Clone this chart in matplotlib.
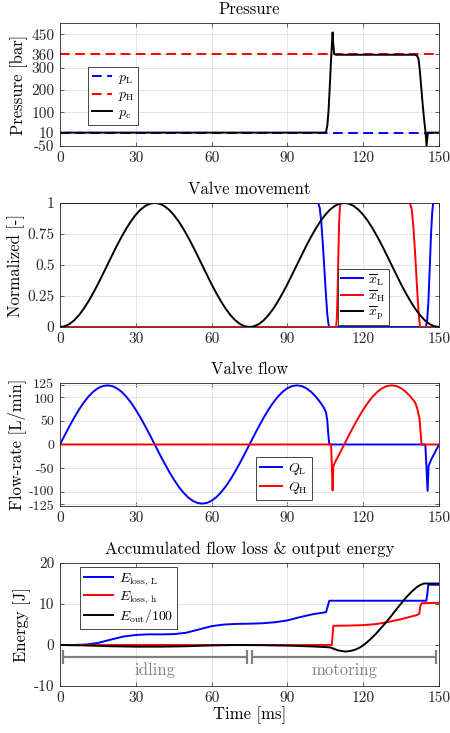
import numpy as np
import matplotlib
matplotlib.use("Agg")
import matplotlib.pyplot as plt
import matplotlib.transforms as mtransforms

plt.rcParams["font.family"] = ["cmr10", "DejaVu Serif"]
plt.rcParams["mathtext.fontset"] = "cm"
plt.rcParams["axes.unicode_minus"] = False
plt.rcParams["axes.formatter.use_mathtext"] = True

# ===================== data =====================
# pressure [bar]
t_pl = [0, 150]
p_low = [10, 10]
t_ph = [0, 150]
p_high = [360, 360]
t_pc = [0, 104.8, 105.3, 105.8, 106.3, 106.8, 107.3, 107.9, 108.2, 108.5, 109,
        140.5, 141.3, 141.9, 142.4, 143, 143.6, 144.2, 144.7, 145.1, 145.6, 150]
p_c = [10, 10, 14, 40, 110, 220, 340, 458, 400, 365, 358,
       358, 354, 340, 290, 210, 130, 60, 10, -50, 10, 10]

# valve movement [-]
t_xl = [0, 102.2, 102.8, 103.4, 104, 104.6, 105.2, 105.8, 106.3, 106.6,
        144.8, 145.3, 145.8, 146.3, 146.8, 147.3, 147.7, 150]
x_low = [1, 1, 0.96, 0.85, 0.68, 0.48, 0.28, 0.1, 0.02, 0,
         0, 0.05, 0.2, 0.45, 0.72, 0.92, 1, 1]
t_xh = [0, 109.3, 109.6, 109.9, 110.2, 110.5, 110.8, 111.1,
        138.5, 139.2, 139.9, 140.6, 141.3, 142, 142.5, 150]
x_high = [0, 0, 0.08, 0.3, 0.6, 0.85, 0.97, 1,
          1, 0.95, 0.8, 0.58, 0.32, 0.1, 0, 0]
t_xp = np.linspace(0, 150, 81)
x_piston = [0, 0.006, 0.024, 0.054, 0.095, 0.146, 0.206, 0.273, 0.345, 0.422,
            0.5, 0.578, 0.655, 0.727, 0.794, 0.854, 0.905, 0.946, 0.976, 0.994,
            1.0, 0.994, 0.976, 0.946, 0.905, 0.854, 0.794, 0.727, 0.655, 0.578,
            0.5, 0.422, 0.345, 0.273, 0.206, 0.146, 0.095, 0.054, 0.024, 0.006,
            0, 0.006, 0.024, 0.054, 0.095, 0.146, 0.206, 0.273, 0.345, 0.422,
            0.5, 0.578, 0.655, 0.727, 0.794, 0.854, 0.905, 0.946, 0.976, 0.994,
            1.0, 0.994, 0.976, 0.946, 0.905, 0.854, 0.794, 0.727, 0.655, 0.578,
            0.5, 0.422, 0.345, 0.273, 0.206, 0.146, 0.095, 0.054, 0.024, 0.006,
            0]

# valve flow [L/min]
t_ql = np.concatenate([np.linspace(0, 103.125, 56),
                       [104.4, 105.3, 105.8, 106.2, 106.6,
                        144.6, 145.5, 145.9, 147, 148, 149, 150]])
q_low = [0, 19.6, 38.6, 56.7, 73.5, 88.4, 101.1, 111.4, 118.9, 123.5,
         125, 123.5, 118.9, 111.4, 101.1, 88.4, 73.5, 56.7, 38.6, 19.6,
         0, -19.6, -38.6, -56.7, -73.5, -88.4, -101.1, -111.4, -118.9, -123.5,
         -125, -123.5, -118.9, -111.4, -101.1, -88.4, -73.5, -56.7, -38.6, -19.6,
         0, 19.6, 38.6, 56.7, 73.5, 88.4, 101.1, 111.4, 118.9, 123.5,
         125, 123.5, 118.9, 111.4, 101.1, 88.4,
         78, 68, 50, 22, 0,
         0, -98, -45, -31, -21, -10.5, 0]
t_qh = np.concatenate([[0, 107.3, 107.9, 108.2, 108.75, 110.625],
                       np.linspace(112.5, 140.625, 16),
                       [141.4, 142.3, 142.8, 143.1, 150]])
q_high = [0, 0, -97, -46, -38.6, -19.6,
          0, 19.6, 38.6, 56.7, 73.5, 88.4, 101.1, 111.4, 118.9, 123.5,
          125, 123.5, 118.9, 111.4, 101.1, 88.4,
          76, 55, 20, 0, 0]

# accumulated energy [J]
t_el = [0, 5, 10, 15, 20, 25, 30, 35, 40, 45, 50, 55, 60, 65, 70, 75, 80, 85,
        90, 95, 100, 105.3, 106, 106.6, 145, 145.4, 145.8, 150]
e_loss_low = [0, 0.02, 0.1, 0.5, 1.3, 2.05, 2.45, 2.6, 2.6, 2.65, 3.0, 3.8,
              4.6, 5.0, 5.15, 5.2, 5.3, 5.55, 6.0, 6.8, 7.5, 8.0, 9.5, 10.8,
              10.8, 12.5, 14.7, 14.7]
t_eh = [0, 107.6, 107.9, 108.2, 115, 120, 125, 129, 135, 141.2, 142.2, 142.6,
        143.2, 150]
e_loss_high = [0, 0, 2.5, 4.7, 4.75, 4.85, 5.1, 5.5, 6.3, 7.3, 7.6, 9.5,
               10.2, 10.3]
t_eo = [0, 10, 20, 30, 40, 50, 60, 70, 80, 90, 100, 105, 107, 110, 112.8,
        115, 117, 119, 121, 123, 125, 127, 129, 131, 133, 135, 137, 139, 141,
        142.5, 144, 150]
e_out = [0, -0.1, -0.3, -0.4, -0.4, -0.3, -0.1, 0, -0.05, -0.15, -0.35, -0.5,
         -0.6, -1.3, -1.6, -1.45, -1.1, -0.5, 0.4, 1.5, 2.7, 4.1, 5.5, 7.0,
         8.6, 10.1, 11.6, 12.9, 14.0, 14.6, 15.0, 15.0]

# operating phases
phase_names = ["idling", "motoring"]
phase_start = [1, 76]
phase_end = [74, 149]

x_ticks = [0, 30, 60, 90, 120, 150]

# ===================== figure =====================
fs_tick = 11
fs_lab = 12
fs_leg = 10
fig = plt.figure(figsize=(4.5, 7.33), dpi=100)
rects = [[0.1333, 0.8008, 0.8422, 0.1678],
         [0.1333, 0.5539, 0.8422, 0.1692],
         [0.1333, 0.3097, 0.8422, 0.1678],
         [0.1333, 0.0641, 0.8422, 0.1678]]
axes = [fig.add_axes(r) for r in rects]

frame = "#262626"
for ax in axes:
    ax.set_xlim(0, 150)
    ax.set_xticks(x_ticks)
    ax.set_xticklabels([str(v) for v in x_ticks])
    ax.grid(True, color="#e0e0e0", linewidth=0.6)
    ax.set_axisbelow(True)
    ax.tick_params(direction="in", length=3, width=0.5, top=True, right=True,
                   labelsize=fs_tick, colors=frame, pad=4)
    for s in ax.spines.values():
        s.set_color(frame)
        s.set_linewidth(0.6)


def mk_legend(ax, x, y, hl=2.0, sp=0.2, bp=0.3):
    leg = ax.legend(loc="upper left", bbox_to_anchor=(x, y), borderaxespad=0,
                    fontsize=fs_leg, fancybox=False, framealpha=1, edgecolor=frame,
                    handlelength=hl, handletextpad=0.4, labelspacing=sp,
                    borderpad=bp)
    leg.get_frame().set_linewidth(0.6)
    return leg


# ----- Pressure -----
ax = axes[0]
ax.plot(t_pl, p_low, "--", color="#0000ff", lw=1.4, dashes=(5, 2.8), label=r"$p_\mathrm{L}$")
ax.plot(t_ph, p_high, "--", color="#ff0000", lw=1.4, dashes=(5, 2.8), label=r"$p_\mathrm{H}$")
ax.plot(t_pc, p_c, color="k", lw=1.4, label=r"$p_\mathrm{c}$")
ax.set_ylim(-50, 500)
yt = [-50, 10, 100, 200, 300, 360, 450]
ax.set_yticks(yt)
ax.set_yticklabels([str(v) for v in yt])
ax.set_title("Pressure", fontsize=fs_lab, pad=6.5)
ax.set_ylabel("Pressure [bar]", fontsize=fs_lab, labelpad=2)
mk_legend(ax, 0.074, 0.642, 1.45)

# ----- Valve movement -----
ax = axes[1]
ax.plot(t_xl, x_low, color="#0000ff", lw=1.4, label=r"$\overline{x}_\mathrm{L}$")
ax.plot(t_xh, x_high, color="#ff0000", lw=1.4, label=r"$\overline{x}_\mathrm{H}$")
ax.plot(t_xp, x_piston, color="k", lw=1.4, label=r"$\overline{x}_\mathrm{p}$")
ax.set_ylim(0, 1)
yt = [0, 0.25, 0.5, 0.75, 1]
ax.set_yticks(yt)
ax.set_yticklabels(["0", "0.25", "0.5", "0.75", "1"])
ax.set_title("Valve movement", fontsize=fs_lab, pad=6.5)
ax.set_ylabel("Normalized [-]", fontsize=fs_lab, labelpad=2)
mk_legend(ax, 0.733, 0.468, 1.6, sp=0.05, bp=0.2)

# ----- Valve flow -----
ax = axes[2]
ax.plot(t_ql, q_low, color="#0000ff", lw=1.4, label=r"$Q_\mathrm{L}$")
ax.plot(t_qh, q_high, color="#ff0000", lw=1.4, label=r"$Q_\mathrm{H}$")
ax.set_ylim(-130, 130)
yt = [-125, -100, -50, 0, 50, 100, 125]
ax.set_yticks(yt)
ax.set_yticklabels([str(v) for v in yt])
ax.tick_params(axis="y", labelsize=10)
# the crowded outer labels get a small nudge apart
shift = {"125": 1.5, "100": -1.0, "-100": 1.0, "-125": -1.5}
for lab in ax.get_yticklabels():
    dy = shift.get(lab.get_text(), 0)
    if dy:
        lab.set_transform(lab.get_transform() +
                          mtransforms.ScaledTranslation(0, dy / 72, fig.dpi_scale_trans))
ax.set_title("Valve flow", fontsize=fs_lab, pad=6.5)
ax.set_ylabel("Flow-rate [L/min]", fontsize=fs_lab, labelpad=2)
mk_legend(ax, 0.517, 0.398, 1.6)

# ----- Energy -----
ax = axes[3]
ax.plot(t_el, e_loss_low, color="#0000ff", lw=1.4, label=r"$E_\mathrm{loss,\,L}$")
ax.plot(t_eh, e_loss_high, color="#ff0000", lw=1.4, label=r"$E_\mathrm{loss,\,h}$")
ax.plot(t_eo, e_out, color="k", lw=1.4, label=r"$E_\mathrm{out}/100$")
ax.set_ylim(-10, 20)
yt = [-10, 0, 10, 20]
ax.set_yticks(yt)
ax.set_yticklabels([str(v) for v in yt])
ax.set_title("Accumulated flow loss & output energy", fontsize=fs_lab, pad=6.5)
ax.set_ylabel("Energy [J]", fontsize=fs_lab, labelpad=2)
ax.set_xlabel("Time [ms]", fontsize=fs_lab, labelpad=1)
mk_legend(ax, 0.053, 0.970, 2.1, sp=0.1)

gray = "#808080"
for name, a, b in zip(phase_names, phase_start, phase_end):
    ax.plot([a, b], [-2.85, -2.85], color=gray, lw=1.6, solid_capstyle="butt")
    ax.plot([a, a], [-1.2, -4.7], color=gray, lw=1.6, solid_capstyle="butt")
    ax.plot([b, b], [-1.2, -4.7], color=gray, lw=1.6, solid_capstyle="butt")
    ax.text((a + b) / 2, -6.2, name, color=gray, fontsize=fs_lab, ha="center", va="center")

fig.savefig("out.png", dpi=100)
